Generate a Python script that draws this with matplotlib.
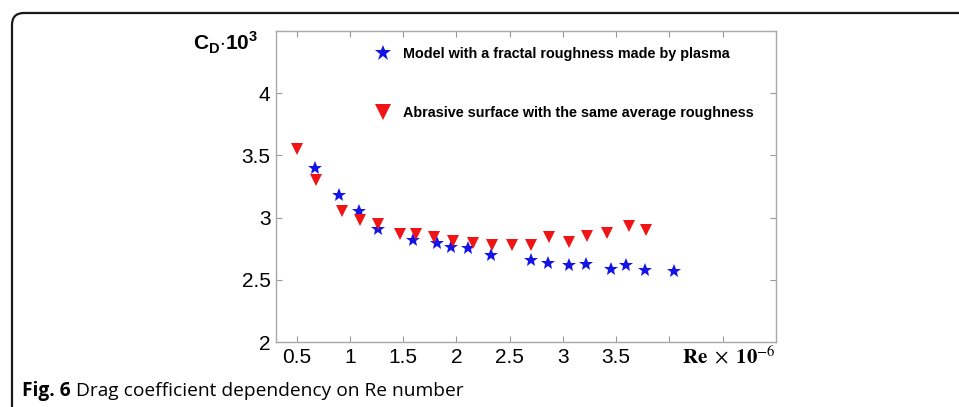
import matplotlib
matplotlib.use("Agg")
import matplotlib.pyplot as plt
from matplotlib.patches import FancyBboxPatch
from matplotlib.transforms import IdentityTransform
from matplotlib.lines import Line2D

plt.rcParams['font.family'] = ['Liberation Sans', 'DejaVu Sans']
plt.rcParams['mathtext.fontset'] = 'custom'
plt.rcParams['mathtext.rm'] = 'Liberation Sans'
plt.rcParams['mathtext.bf'] = 'Liberation Sans:bold'

# Re x 10^-6 vs C_D x 10^3
re_plasma = [0.672, 0.897, 1.087, 1.265, 1.594, 1.813, 1.947, 2.104, 2.329,
             2.698, 2.860, 3.054, 3.220, 3.455, 3.596, 3.774, 4.042]
cd_plasma = [3.395, 3.183, 3.056, 2.909, 2.823, 2.796, 2.764, 2.752, 2.696,
             2.661, 2.637, 2.621, 2.627, 2.589, 2.615, 2.575, 2.567]

re_abrasive = [0.500, 0.678, 0.922, 1.094, 1.260, 1.469, 1.619, 1.791, 1.963,
               2.157, 2.335, 2.517, 2.701, 2.870, 3.057, 3.230, 3.414, 3.620, 3.777]
cd_abrasive = [3.548, 3.306, 3.051, 2.984, 2.952, 2.871, 2.871, 2.841, 2.809,
               2.796, 2.782, 2.777, 2.782, 2.841, 2.801, 2.849, 2.877, 2.935, 2.903]

x_ticks = [0.5, 1, 1.5, 2, 2.5, 3, 3.5, 4, 4.5]
x_labels = ["0.5", "1", "1.5", "2", "2.5", "3", "3.5", "", ""]
y_ticks = [2, 2.5, 3, 3.5, 4, 4.5]
y_labels = ["2", "2.5", "3", "3.5", "4", ""]

label_plasma = "Model with a fractal roughness made by plasma"
label_abrasive = "Abrasive surface with the same average roughness"

W, H = 959, 407
fig = plt.figure(figsize=(W / 100, H / 100), dpi=100)
fig.patch.set_facecolor("white")

# page frame with rounded top-left corner
frame = FancyBboxPatch((12, -200), 1500, H - 13 + 200,
                       boxstyle="round,pad=0,rounding_size=12",
                       transform=IdentityTransform(), fill=False,
                       edgecolor="#1a1a1a", linewidth=1.6)
fig.add_artist(frame)

ax = fig.add_axes([276 / W, 1 - 342 / H, 500 / W, 311 / H])
blue = "#1414e6"
red = "#f01414"
ax.plot(re_plasma, cd_plasma, linestyle="none", marker="*", markersize=10,
        color=blue, markeredgewidth=0)
ax.plot(re_abrasive, cd_abrasive, linestyle="none", marker="v", markersize=9,
        color=red, markeredgewidth=0)

ax.set_xlim(0.306, 5.0)
ax.set_ylim(2, 4.5)
ax.set_xticks(x_ticks)
ax.set_xticklabels(x_labels, fontsize=15)
ax.set_yticks(y_ticks)
ax.set_yticklabels(y_labels, fontsize=15)
ax.tick_params(direction="in", length=4, width=0.8, color="#9a9a9a",
               top=True, right=True, pad=4)
for s in ax.spines.values():
    s.set_color("#a8a8a8")
    s.set_linewidth(1.0)

handles = [Line2D([], [], linestyle="none", marker="*", markersize=12,
                  color=blue, markeredgewidth=0),
           Line2D([], [], linestyle="none", marker="v", markersize=11,
                  color=red, markeredgewidth=0)]
ax.legend(handles, [label_plasma, label_abrasive], loc="upper left",
          bbox_to_anchor=(0.2, 0.947), frameon=False, borderpad=0,
          borderaxespad=0, handlelength=1.0, handletextpad=0.9,
          labelspacing=3.1, prop={"weight": "bold", "size": 10.4})

ax.text(1.0, -0.045, r"$\mathbf{Re}\ \times\ \mathbf{10}^{-6}$", transform=ax.transAxes,
        ha="right", va="center", fontsize=15, math_fontfamily="stix")

fig.text(193 / W, 1 - 50 / H, r"$\mathbf{C}_\mathbf{D}{\cdot}\mathbf{10}^\mathbf{3}$",
         ha="left", va="baseline", fontsize=15)

# caption
renderer = fig.canvas.get_renderer()
t1 = fig.text(22 / W, 1 - 396 / H, "Fig. 6", fontsize=13.8, weight="bold",
              family=["Open Sans", "DejaVu Sans"], va="baseline")
bb = t1.get_window_extent(renderer)
fig.text((bb.x1 + 5) / W, 1 - 396 / H, "Drag coefficient dependency on Re number",
         fontsize=13.8, family=["Open Sans", "DejaVu Sans"], va="baseline")

fig.savefig("out.png", dpi=100)
